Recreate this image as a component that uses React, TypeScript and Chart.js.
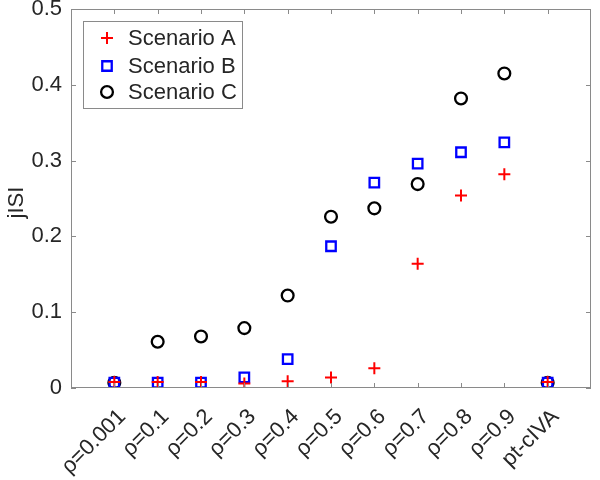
import React, { useEffect, useRef } from 'react';
import { Chart, registerables } from 'chart.js';

Chart.register(...registerables);

const categories = ['ρ=0.001', 'ρ=0.1', 'ρ=0.2', 'ρ=0.3', 'ρ=0.4', 'ρ=0.5', 'ρ=0.6', 'ρ=0.7', 'ρ=0.8', 'ρ=0.9', 'pt-cIVA'];
const seriesNames = ['Scenario A', 'Scenario B', 'Scenario C'];
const scenarioA = [0.008, 0.008, 0.008, 0.006, 0.009, 0.014, 0.026, 0.164, 0.254, 0.282, 0.008];
const scenarioB = [0.007, 0.007, 0.007, 0.014, 0.038, 0.187, 0.271, 0.296, 0.311, 0.324, 0.007];
const scenarioC = [0.007, 0.061, 0.068, 0.079, 0.122, 0.226, 0.237, 0.269, 0.382, 0.415, 0.007];
const yTicks = [0, 0.1, 0.2, 0.3, 0.4, 0.5];
const yLabel = 'jISI';

const FONT = '"Liberation Sans", Arial, Helvetica, sans-serif';
const FS = 22;
const TEXT = '#262626';
const AXIS = '#8a8a8a';

const markers = [
  { style: 'cross', color: '#ff0000', radius: 6, width: 2 },
  { style: 'rect', color: '#0000ff', radius: 6.7, width: 2.3 },
  { style: 'circle', color: '#000000', radius: 5.9, width: 2.3 },
];

function drawMarker(ctx: CanvasRenderingContext2D, kind: string, x: number, y: number, r: number) {
  ctx.beginPath();
  if (kind === 'cross') {
    ctx.moveTo(x - r, y);
    ctx.lineTo(x + r, y);
    ctx.moveTo(x, y - r);
    ctx.lineTo(x, y + r);
  } else if (kind === 'rect') {
    const s = r * Math.SQRT1_2;
    ctx.rect(x - s, y - s, 2 * s, 2 * s);
  } else {
    ctx.arc(x, y, r, 0, Math.PI * 2);
  }
  ctx.stroke();
}

const framePlugin = {
  id: 'matlabFrame',
  afterDraw(chart: any) {
    const { ctx, chartArea } = chart;
    const { left, right, top, bottom } = chartArea;
    const xs = chart.scales.x;
    const ys = chart.scales.y;
    ctx.save();
    ctx.strokeStyle = AXIS;
    ctx.lineWidth = 1;
    ctx.strokeRect(left + 0.5, top + 0.5, right - left - 1, bottom - top - 1);
    const tl = 5;
    ctx.beginPath();
    yTicks.forEach((v) => {
      const yp = Math.round(ys.getPixelForValue(v)) + 0.5;
      ctx.moveTo(left, yp);
      ctx.lineTo(left + tl, yp);
      ctx.moveTo(right, yp);
      ctx.lineTo(right - tl, yp);
    });
    categories.forEach((_, i) => {
      const xp = Math.round(xs.getPixelForValue(i + 1)) + 0.5;
      ctx.moveTo(xp, bottom);
      ctx.lineTo(xp, bottom - tl);
      ctx.moveTo(xp, top);
      ctx.lineTo(xp, top + tl);
    });
    ctx.stroke();

    // y label
    ctx.save();
    ctx.translate(17, (top + bottom) / 2 + 4);
    ctx.rotate(-Math.PI / 2);
    ctx.fillStyle = TEXT;
    ctx.font = `${FS}px ${FONT}`;
    ctx.textAlign = 'center';
    ctx.textBaseline = 'middle';
    ctx.fillText(yLabel, 0, 0);
    ctx.restore();

    // legend
    const bx = left + 12;
    const by = top + 12;
    const bw = 159;
    const bh = 87;
    ctx.fillStyle = '#ffffff';
    ctx.fillRect(bx, by, bw, bh);
    ctx.strokeStyle = AXIS;
    ctx.lineWidth = 1;
    ctx.strokeRect(bx + 0.5, by + 0.5, bw, bh);
    const rowY = [by + 17, by + 45, by + 71];
    seriesNames.forEach((name, i) => {
      const m = markers[i];
      ctx.strokeStyle = m.color;
      ctx.lineWidth = m.width;
      drawMarker(ctx, m.style, bx + 24, rowY[i], m.radius);
      ctx.fillStyle = TEXT;
      ctx.font = `${FS}px ${FONT}`;
      ctx.textAlign = 'left';
      ctx.textBaseline = 'middle';
      ctx.fillText(name, bx + 45, rowY[i] + 1);
    });
    ctx.restore();
  },
};

export default function App() {
  const ref = useRef<HTMLCanvasElement | null>(null);
  useEffect(() => {
    document.body.style.margin = '0';
    const canvas = ref.current;
    if (!canvas) return;
    const allSeries = [scenarioA, scenarioB, scenarioC];
    const chart = new Chart(canvas, {
      type: 'scatter',
      data: {
        datasets: allSeries.map((vals, i) => ({
          label: seriesNames[i],
          data: vals.map((v, j) => ({ x: j + 1, y: v })),
          pointStyle: markers[i].style as any,
          pointRadius: markers[i].radius,
          pointHoverRadius: markers[i].radius,
          borderColor: markers[i].color,
          backgroundColor: 'rgba(0,0,0,0)',
          pointBorderWidth: markers[i].width,
          borderWidth: markers[i].width,
          showLine: false,
        })),
      },
      options: {
        animation: false,
        responsive: false,
        devicePixelRatio: 1,
        layout: { padding: { left: 0, right: 0, top: 8, bottom: 0 } },
        plugins: {
          legend: { display: false },
          tooltip: { enabled: false },
        },
        scales: {
          x: {
            type: 'linear',
            min: 0,
            max: 12,
            grid: { display: false, drawTicks: false },
            border: { display: false },
            afterBuildTicks: (scale: any) => {
              scale.ticks = categories.map((_, i) => ({ value: i + 1 }));
            },
            afterFit: (scale: any) => {
              scale.height = 92;
              scale.paddingLeft = 0;
              scale.paddingRight = 0;
            },
            ticks: {
              autoSkip: false,
              minRotation: 45,
              maxRotation: 45,
              padding: 16,
              labelOffset: 8,
              color: TEXT,
              font: { size: FS, family: FONT },
              callback: (v: any) => categories[Math.round(Number(v)) - 1] ?? '',
            },
          },
          y: {
            min: 0,
            max: 0.5,
            grid: { display: false, drawTicks: false },
            border: { display: false },
            afterBuildTicks: (scale: any) => {
              scale.ticks = yTicks.map((v) => ({ value: v }));
            },
            afterFit: (scale: any) => {
              scale.width = 71;
              scale.paddingTop = 0;
              scale.paddingBottom = 0;
            },
            ticks: {
              padding: 9,
              color: TEXT,
              font: { size: FS, family: FONT },
              callback: (v: any) => String(Number(Number(v).toFixed(2))),
            },
          },
        },
      },
      plugins: [framePlugin],
    });
    return () => chart.destroy();
  }, []);
  return (
    <div style={{ position: 'absolute', left: 0, top: 0, width: 600, height: 480 }}>
      <canvas ref={ref} width={600} height={480} style={{ width: 600, height: 480 }} />
    </div>
  );
}
